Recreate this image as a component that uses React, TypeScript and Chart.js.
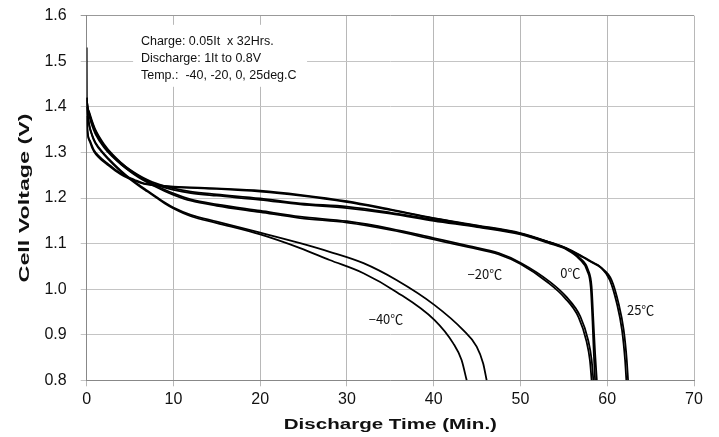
import { useEffect, useRef } from 'react';
import { Chart, registerables } from 'chart.js';

Chart.register(...registerables);

// discharge curves, two cells per temperature (time in min, voltage in V)
const t25a = [0, 0.02, 0.1, 0.4, 0.84, 1.5, 2.4, 3.3, 4.3, 5.5, 6.6, 8, 10, 15, 20, 24.6, 30, 35, 40, 45, 50, 53.4, 55.3, 57.2, 58.2, 59.2, 60.3, 61.1, 61.7, 62.05, 62.2];
const v25a = [1.53, 1.4, 1.345, 1.325, 1.305, 1.29, 1.276, 1.262, 1.25, 1.24, 1.232, 1.228, 1.225, 1.221, 1.216, 1.207, 1.193, 1.175, 1.156, 1.14, 1.123, 1.103, 1.09, 1.071, 1.06, 1.049, 1.02, 0.969, 0.91, 0.845, 0.8];
const t25b = [0, 0.1, 0.4, 0.84, 1.5, 2.4, 3.3, 4.3, 5.5, 6.6, 8, 10, 15, 20, 24.6, 30, 35, 40, 45, 50, 53.4, 55.3, 57.2, 58.2, 59.3, 60.5, 61.3, 61.9, 62.25, 62.4];
const v25b = [1.38, 1.345, 1.322, 1.302, 1.287, 1.273, 1.26, 1.248, 1.238, 1.231, 1.227, 1.224, 1.22, 1.214, 1.205, 1.191, 1.174, 1.155, 1.139, 1.122, 1.102, 1.089, 1.07, 1.059, 1.047, 1.02, 0.969, 0.91, 0.845, 0.8];

const t0a = [0, 0.1, 0.3, 0.6, 1, 2, 3, 4, 5, 6, 7, 8, 9, 10, 12, 15, 20, 24.6, 30, 35, 40, 45, 50, 53.4, 55.3, 56.85, 57.8, 58.2, 58.4, 58.6, 58.8];
const v0a = [1.42, 1.4, 1.385, 1.365, 1.345, 1.315, 1.293, 1.276, 1.262, 1.25, 1.24, 1.232, 1.226, 1.221, 1.214, 1.208, 1.199, 1.188, 1.181, 1.168, 1.152, 1.138, 1.122, 1.102, 1.089, 1.068, 1.042, 1.005, 0.932, 0.859, 0.8];
const t0b = [0, 0.1, 0.3, 0.6, 1, 2, 3, 4, 5, 6, 7, 8, 9, 10, 12, 15, 20, 24.6, 30, 35, 40, 45, 50, 53.4, 55.3, 56.8, 57.7, 58.1, 58.3, 58.45, 58.6];
const v0b = [1.42, 1.395, 1.38, 1.36, 1.341, 1.311, 1.29, 1.273, 1.259, 1.247, 1.237, 1.229, 1.223, 1.218, 1.211, 1.205, 1.196, 1.186, 1.178, 1.166, 1.15, 1.136, 1.12, 1.1, 1.087, 1.066, 1.04, 1.003, 0.93, 0.86, 0.8];

const tm20a = [0, 0.1, 0.3, 0.6, 1, 2, 3, 4, 5, 6, 7, 8, 9, 10, 12, 15, 20, 24.6, 30, 35, 40, 44, 47.5, 50.1, 53.4, 55.3, 56.9, 57.8, 58.2, 58.4];
const vm20a = [1.42, 1.4, 1.388, 1.37, 1.35, 1.318, 1.295, 1.277, 1.261, 1.248, 1.237, 1.227, 1.218, 1.21, 1.197, 1.186, 1.172, 1.159, 1.149, 1.133, 1.112, 1.095, 1.079, 1.057, 1.016, 0.983, 0.94, 0.888, 0.845, 0.8];
const tm20b = [0, 0.1, 0.3, 0.6, 1, 2, 3, 4, 5, 6, 7, 8, 9, 10, 12, 15, 20, 24.6, 30, 35, 40, 44, 47.5, 50, 53.2, 55.1, 56.7, 57.6, 58, 58.2];
const vm20b = [1.42, 1.398, 1.385, 1.367, 1.347, 1.315, 1.292, 1.274, 1.258, 1.245, 1.234, 1.224, 1.215, 1.207, 1.194, 1.183, 1.169, 1.156, 1.146, 1.13, 1.109, 1.092, 1.076, 1.055, 1.014, 0.981, 0.938, 0.886, 0.844, 0.8];

const tm40a = [0, 0.1, 0.3, 0.6, 1, 2, 3, 4, 5, 6, 7, 8, 9, 10, 12, 15, 20, 24.6, 28, 31.9, 35.7, 40.1, 43.4, 44.95, 45.7, 46.1];
const vm40a = [1.4, 1.385, 1.36, 1.34, 1.322, 1.297, 1.277, 1.259, 1.243, 1.229, 1.216, 1.203, 1.19, 1.179, 1.163, 1.148, 1.124, 1.101, 1.082, 1.057, 1.02, 0.965, 0.91, 0.874, 0.837, 0.8];
const tm40b = [0, 0.1, 0.3, 0.6, 1, 2, 3, 4, 5, 6, 7, 8, 9, 10, 12, 15, 20, 24.6, 28, 31.9, 35.7, 40.1, 42.25, 43.2, 43.8];
const vm40b = [1.4, 1.383, 1.358, 1.338, 1.32, 1.295, 1.275, 1.257, 1.241, 1.227, 1.214, 1.201, 1.188, 1.177, 1.16, 1.145, 1.12, 1.09, 1.064, 1.035, 0.994, 0.932, 0.881, 0.845, 0.8];

const curves = [
  [t25a, v25a], [t25b, v25b],
  [t0a, v0a], [t0b, v0b],
  [tm20a, vm20a], [tm20b, vm20b],
  [tm40a, vm40a], [tm40b, vm40b],
];

// curve labels: [text, time, voltage]
const tempLabels: [string, number, number][] = [
  ['\u221240\u2103', 34.5, 0.934],
  ['\u221220\u2103', 45.9, 1.033],
  ['0\u2103', 55.75, 1.036],
  ['25\u2103', 63.85, 0.954],
];

const noteLines = ['Charge: 0.05It  x 32Hrs.', 'Discharge: 1It to 0.8V', 'Temp.:  -40, -20, 0, 25deg.C'];

const xTitle = 'Discharge Time (Min.)';
const yTitle = 'Cell Voltage (V)';

const FONT = '"Liberation Sans", Arial, sans-serif';

const notesPlugin = {
  id: 'notes',
  beforeDatasetsDraw(chart: any) {
    const { ctx, scales } = chart;
    const x = scales.x;
    const y = scales.y;
    const l = x.getPixelForValue(5.35);
    const r = x.getPixelForValue(25.4);
    const t = y.getPixelForValue(1.58);
    const b = y.getPixelForValue(1.444);
    ctx.save();
    ctx.fillStyle = '#fff';
    ctx.fillRect(l, t, r - l, b - t);
    ctx.fillStyle = '#111';
    ctx.font = `12.5px ${FONT}`;
    ctx.textBaseline = 'middle';
    ctx.textAlign = 'left';
    const tx = x.getPixelForValue(6.25);
    const ty = y.getPixelForValue(1.543);
    noteLines.forEach((line, i) => ctx.fillText(line, tx, ty + i * 17));
    ctx.restore();
  },
  afterDatasetsDraw(chart: any) {
    const { ctx, scales } = chart;
    ctx.save();
    ctx.fillStyle = '#111';
    ctx.font = '13px "Noto Sans CJK JP", sans-serif';
    ctx.textBaseline = 'middle';
    ctx.textAlign = 'center';
    tempLabels.forEach(([text, tx, ty]) => {
      ctx.fillText(text, scales.x.getPixelForValue(tx), scales.y.getPixelForValue(ty));
    });
    ctx.restore();
  },
  afterDraw(chart: any) {
    // axis titles, drawn wide like the original
    const { ctx, chartArea } = chart;
    const cx = (chartArea.left + chartArea.right) / 2;
    const cy = (chartArea.top + chartArea.bottom) / 2;
    ctx.save();
    ctx.fillStyle = '#111';
    ctx.font = `bold 15px ${FONT}`;
    ctx.textAlign = 'center';
    ctx.textBaseline = 'middle';
    ctx.save();
    ctx.translate(cx, 425);
    ctx.scale(1.37, 1);
    ctx.fillText(xTitle, 0, 0);
    ctx.restore();
    ctx.translate(25, cy);
    ctx.rotate(-Math.PI / 2);
    ctx.scale(1.55, 1);
    ctx.fillText(yTitle, 0, 0);
    ctx.restore();
  },
};

export default function App() {
  const canvasRef = useRef<HTMLCanvasElement>(null);

  useEffect(() => {
    if (!canvasRef.current) return;

    const chart = new Chart(canvasRef.current, {
      type: 'line',
      data: {
        datasets: curves.map(([ts, vs]) => ({
          data: ts.map((t, i) => ({ x: t, y: vs[i] })),
          borderColor: '#000',
          borderWidth: 1.8,
          pointRadius: 0,
          cubicInterpolationMode: 'monotone' as const,
        })),
      },
      options: {
        animation: false,
        responsive: true,
        maintainAspectRatio: false,
        layout: { padding: { top: 0, right: 25, bottom: 0, left: 0 } },
        plugins: { legend: { display: false }, tooltip: { enabled: false } },
        scales: {
          x: {
            type: 'linear',
            min: 0,
            max: 70,
            ticks: { stepSize: 10, color: '#111', font: { family: FONT, size: 16 }, padding: 4 },
            grid: { color: '#b8b8b8', tickLength: 6 },
            border: { color: '#888' },
            afterFit: (s: any) => { s.height = 56.7; },
          },
          y: {
            min: 0.8,
            max: 1.6,
            ticks: {
              stepSize: 0.1,
              color: '#111',
              font: { family: FONT, size: 16 },
              padding: 14,
              callback: (v: any) => Number(v).toFixed(1),
            },
            grid: { color: (c: any) => (c.tick && c.tick.value > 1.59 ? '#999' : '#c4c4c4'), tickLength: 6 },
            border: { color: '#888' },
            afterFit: (s: any) => {
              s.width = 86.7;
              s.paddingTop = 15.7;
              s.paddingBottom = 0;
            },
          },
        },
      },
      plugins: [notesPlugin],
    });

    return () => {
      chart.destroy();
    };
  }, []);

  return (
    <div style={{ position: 'absolute', left: 0, top: 0, width: 719, height: 437, background: '#fff' }}>
      <canvas ref={canvasRef} />
    </div>
  );
}
